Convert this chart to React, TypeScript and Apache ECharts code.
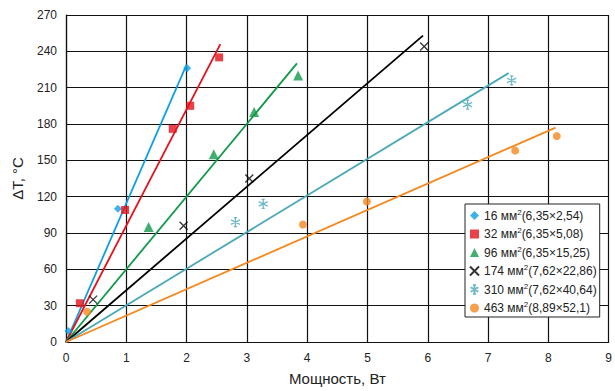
import React, { useEffect, useRef } from "react";
import * as echarts from "echarts";

// Sample labels
const areas = ["16", "32", "96", "174", "310", "463"];
const dims = ["6,35×2,54", "6,35×5,08", "6,35×15,25", "7,62×22,86", "7,62×40,64", "8,89×52,1"];

// Measured points (power W, ΔT °C)
const p16 = [0.04, 0.86, 2.01];
const t16 = [9, 110, 226];
const p32 = [0.23, 0.98, 1.77, 2.06, 2.54];
const t32 = [32, 109, 176, 195, 235];
const p96 = [1.37, 2.45, 3.12, 3.85];
const t96 = [95, 155, 190, 220];
const p174 = [0.45, 1.95, 3.04, 5.94];
const t174 = [35, 96, 135, 244];
const p310 = [2.81, 3.27, 6.66, 7.39];
const t310 = [99, 114, 196, 216];
const p463 = [0.35, 3.93, 4.99, 7.45, 8.14];
const t463 = [25, 97, 116, 158, 170];

// Trend lines from origin to end point
const lineEndX = [2.0, 2.56, 3.83, 5.92, 7.34, 8.12];
const lineEndY = [229, 246, 230, 253, 222, 177];

const xTicks = { min: 0, max: 9, interval: 1 };
const yTicks = { min: 0, max: 270, interval: 30 };

const colors = ["#0f9fe4", "#e5121c", "#12994a", "#000000", "#4aa8b8", "#f5871f"];
const symbols = [
  "diamond",
  "rect",
  "triangle",
  "path://M0,0L10,10M10,0L0,10",
  "path://M5,0L5,10M0.7,2.5L9.3,7.5M0.7,7.5L9.3,2.5M3.5,0L6.5,0M3.5,10L6.5,10",
  "circle",
];
const sizes = [8, 8, 10, 8, 9, 8];
const pts = [
  [p16, t16],
  [p32, t32],
  [p96, t96],
  [p174, t174],
  [p310, t310],
  [p463, t463],
];

const FONT = "'Liberation Sans', Arial, sans-serif";

export default function App() {
  const ref = useRef<HTMLDivElement>(null);
  useEffect(() => {
    if (!ref.current) return;
    const chart = echarts.init(ref.current, undefined, { renderer: "svg" });
    const names = areas.map((a, i) => `${a} мм2(${dims[i]})`);
    const scatterSeries = pts.map(([xs, ys], i) => {
      const isStroke = i === 3 || i === 4;
      return {
        type: "scatter",
        name: names[i],
        symbol: symbols[i],
        symbolSize: sizes[i],
        data: xs.map((x, j) => [x, ys[j]]),
        itemStyle: isStroke
          ? { color: "rgba(0,0,0,0)", borderColor: colors[i], borderWidth: 1.3 }
          : { color: colors[i] },
        z: 3,
      };
    });
    const lineSeries = lineEndX.map((x, i) => ({
      type: "line",
      name: "fit" + i,
      data: [
        [0, 0],
        [x, lineEndY[i]],
      ],
      symbol: "none",
      lineStyle: { color: colors[i], width: 1.8 },
      z: 2,
    }));
    chart.setOption({
      animation: false,
      textStyle: { fontFamily: FONT },
      grid: { left: 66, right: 4, top: 15, bottom: 44 },
      xAxis: {
        type: "value",
        ...xTicks,
        name: "Мощность, Вт",
        nameLocation: "middle",
        nameGap: 29,
        nameTextStyle: { fontSize: 15, color: "#222", fontFamily: FONT },
        axisLine: { lineStyle: { color: "#111", width: 1.2 } },
        axisTick: { show: false },
        axisLabel: { fontSize: 12, color: "#222", margin: 10, fontFamily: FONT },
        splitLine: { lineStyle: { color: "#111", width: 1.2 } },
      },
      yAxis: {
        type: "value",
        ...yTicks,
        name: "ΔT, °C",
        nameLocation: "middle",
        nameGap: 41,
        nameTextStyle: { fontSize: 15, color: "#222", fontFamily: FONT },
        axisLine: { show: true, lineStyle: { color: "#111", width: 1.2 } },
        axisTick: { show: false },
        axisLabel: { fontSize: 12, color: "#222", margin: 9, fontFamily: FONT },
        splitLine: { lineStyle: { color: "#111", width: 1.2 } },
      },
      legend: {
        data: names,
        orient: "vertical",
        left: 465,
        top: 204,
        padding: [4, 3, 3, 4],
        itemGap: 5,
        itemWidth: 9,
        itemHeight: 9,
        backgroundColor: "#fff",
        borderColor: "#222",
        borderWidth: 1,
        borderRadius: 0,
        textStyle: {
          color: "#222",
          fontFamily: FONT,
          rich: {
            a: { fontSize: 12, lineHeight: 15, color: "#222", fontFamily: FONT },
            s: { fontSize: 8, lineHeight: 9, verticalAlign: "top", color: "#222", fontFamily: FONT },
          },
        },
        formatter: (name: string) => {
          const i = names.indexOf(name);
          return `{a|${areas[i]} мм}{s|2}{a|(${dims[i]})}`;
        },
      },
      series: [...lineSeries, ...scatterSeries],
    });
    return () => chart.dispose();
  }, []);
  return <div ref={ref} style={{ width: 615, height: 391, position: "absolute", left: 0, top: 0 }} />;
}
